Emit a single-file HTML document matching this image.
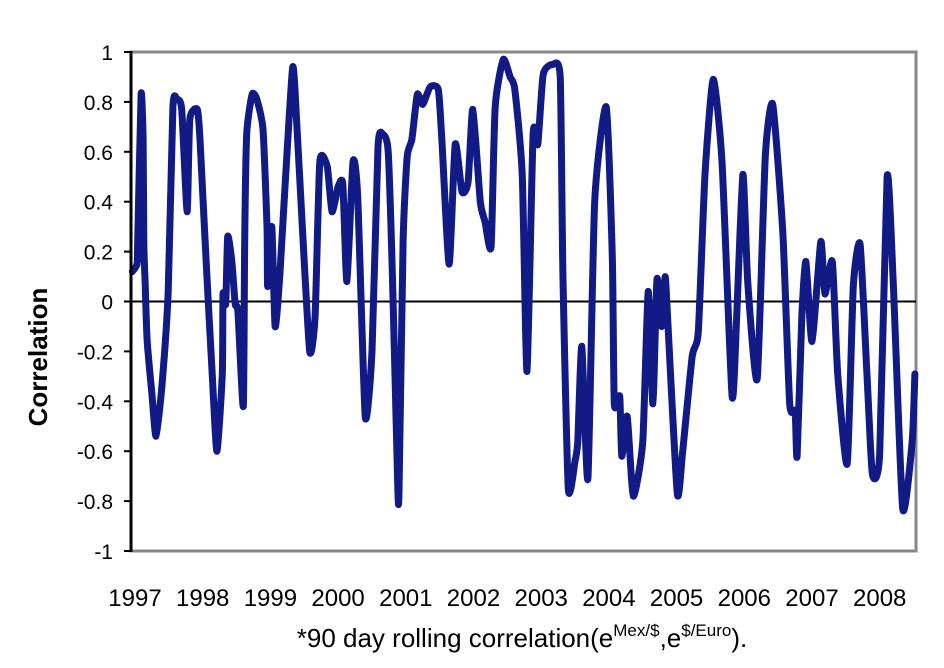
<!DOCTYPE html>
<html><head><meta charset="utf-8"><style>
body{margin:0;background:#fff;}
svg{display:block;font-family:"Liberation Sans",Arial,sans-serif;}
</style></head><body>
<svg id="chart" width="944" height="668" viewBox="0 0 944 668">
<rect x="0" y="0" width="944" height="668" fill="#fff"/>
<g id="grid"></g>
<g id="series"></g>
<g id="axes"></g>
<text transform="translate(47,357) rotate(-90)" text-anchor="middle" font-size="26" font-weight="bold" fill="#000">Correlation</text>
<text x="522" y="647" text-anchor="middle" font-size="26" fill="#000">*90 day rolling correlation(e<tspan font-size="17" dy="-11">Mex/$</tspan><tspan dy="11">,e</tspan><tspan font-size="17" dy="-11">$/Euro</tspan><tspan dy="11">).</tspan></text>
</svg>
<script>
const years = [1996.96,1997.03,1997.04,1997.09,1997.12,1997.13,1997.15,1997.18,1997.25,1997.31,1997.40,1997.49,1997.56,1997.62,1997.69,1997.77,1997.81,1997.92,1997.96,1998.06,1998.14,1998.21,1998.29,1998.30,1998.34,1998.37,1998.43,1998.48,1998.52,1998.60,1998.62,1998.65,1998.73,1998.80,1998.89,1998.95,1998.96,1999.02,1999.07,1999.14,1999.22,1999.33,1999.39,1999.47,1999.58,1999.66,1999.73,1999.84,1999.91,2000.00,2000.07,2000.13,2000.22,2000.29,2000.40,2000.50,2000.59,2000.66,2000.74,2000.81,2000.88,2000.90,2000.96,2001.02,2001.09,2001.17,2001.25,2001.36,2001.48,2001.53,2001.64,2001.73,2001.83,2001.92,2001.99,2002.10,2002.17,2002.26,2002.32,2002.44,2002.54,2002.61,2002.72,2002.79,2002.88,2002.95,2003.03,2003.17,2003.28,2003.32,2003.40,2003.50,2003.54,2003.60,2003.69,2003.79,2003.96,2004.05,2004.08,2004.16,2004.19,2004.27,2004.36,2004.50,2004.58,2004.65,2004.71,2004.78,2004.83,2004.87,2005.01,2005.09,2005.23,2005.32,2005.42,2005.54,2005.67,2005.82,2005.89,2005.98,2006.05,2006.19,2006.31,2006.42,2006.57,2006.67,2006.75,2006.78,2006.85,2006.91,2007.00,2007.13,2007.19,2007.30,2007.38,2007.52,2007.61,2007.71,2007.81,2007.89,2008.00,2008.11,2008.20,2008.34,2008.48,2008.52];
const corr = [0.12,0.15,0.24,0.83,0.65,0.24,0.07,-0.16,-0.37,-0.54,-0.33,0.04,0.78,0.81,0.77,0.36,0.73,0.77,0.65,0.11,-0.29,-0.60,-0.29,0.03,-0.01,0.26,0.16,-0.01,-0.04,-0.42,0.24,0.67,0.83,0.81,0.69,0.30,0.06,0.30,-0.10,0.11,0.48,0.94,0.71,0.31,-0.20,-0.06,0.56,0.54,0.36,0.46,0.47,0.08,0.56,0.42,-0.46,-0.20,0.62,0.67,0.60,0.03,-0.73,-0.76,0.24,0.58,0.65,0.83,0.79,0.86,0.85,0.66,0.15,0.63,0.44,0.48,0.77,0.40,0.32,0.22,0.78,0.97,0.90,0.85,0.51,-0.28,0.67,0.63,0.91,0.95,0.90,0.11,-0.75,-0.64,-0.56,-0.18,-0.71,0.40,0.78,0.18,-0.41,-0.38,-0.62,-0.46,-0.78,-0.56,0.04,-0.41,0.09,-0.10,0.10,-0.08,-0.77,-0.60,-0.22,-0.12,0.51,0.89,0.56,-0.38,-0.04,0.51,0.08,-0.31,0.58,0.79,0.27,-0.41,-0.44,-0.62,-0.06,0.16,-0.16,0.24,0.03,0.16,-0.29,-0.65,0.06,0.23,-0.28,-0.69,-0.61,0.50,0.08,-0.83,-0.56,-0.29];
const yTicks = [1,0.8,0.6,0.4,0.2,0,-0.2,-0.4,-0.6,-0.8,-1];
const yTickLabels = ["1","0.8","0.6","0.4","0.2","0","-0.2","-0.4","-0.6","-0.8","-1"];
const xTicks = [1997,1998,1999,2000,2001,2002,2003,2004,2005,2006,2007,2008];
const xTickLabels = ["1997","1998","1999","2000","2001","2002","2003","2004","2005","2006","2007","2008"];

const L=131,R=916,T=52,B=551;
const xS = t => 135 + (t-1997)*67.7;
const yS = v => T + (1-v)/2*(B-T);
const NS="http://www.w3.org/2000/svg";
function mk(tag,attrs,parent){const e=document.createElementNS(NS,tag);for(const k in attrs)e.setAttribute(k,attrs[k]);parent.appendChild(e);return e;}
const axes=document.getElementById('axes'), series=document.getElementById('series'), grid=document.getElementById('grid');

const frame=mk('rect',{x:L,y:T,width:R-L,height:B-T,fill:'none',stroke:'#888','stroke-width':3},grid);


const zl=mk('line',{x1:L,x2:R,y1:yS(0),y2:yS(0),stroke:'#000','stroke-width':2},grid);



const P=years.map((t,i)=>[xS(t),yS(corr[i])]);
let d='M'+P[0][0].toFixed(1)+','+P[0][1].toFixed(1);
for(let i=0;i<P.length-1;i++){
  const p0=P[Math.max(0,i-1)],p1=P[i],p2=P[i+1],p3=P[Math.min(P.length-1,i+2)];
  const k=0.1;
  const c1=[p1[0]+(p2[0]-p0[0])*k,p1[1]+(p2[1]-p0[1])*k];
  const c2=[p2[0]-(p3[0]-p1[0])*k,p2[1]-(p3[1]-p1[1])*k];
  d+=' C'+c1[0].toFixed(1)+','+c1[1].toFixed(1)+' '+c2[0].toFixed(1)+','+c2[1].toFixed(1)+' '+p2[0].toFixed(1)+','+p2[1].toFixed(1);
}
const line=mk('path',{d:d,fill:'none',stroke:'#111a85','stroke-width':7,'stroke-linejoin':'round','stroke-linecap':'round'},series);



const ya=mk('line',{x1:L,x2:L,y1:T-1,y2:B+1,stroke:'#000','stroke-width':3},axes);


yTicks.forEach((v,i)=>{
  const tk=mk('line',{x1:L-7,x2:L,y1:yS(v),y2:yS(v),stroke:'#000','stroke-width':2},axes);
  
  
  const tx=mk('text',{x:113,y:yS(v)+8,'text-anchor':'end','font-size':21,fill:'#000'},axes);
  tx.textContent=yTickLabels[i];
  
  
});
xTicks.forEach((t,i)=>{
  const tx=mk('text',{x:xS(t),y:606,'text-anchor':'middle','font-size':24,fill:'#000'},axes);
  tx.textContent=xTickLabels[i];
  
  
});
</script>
</body></html>
